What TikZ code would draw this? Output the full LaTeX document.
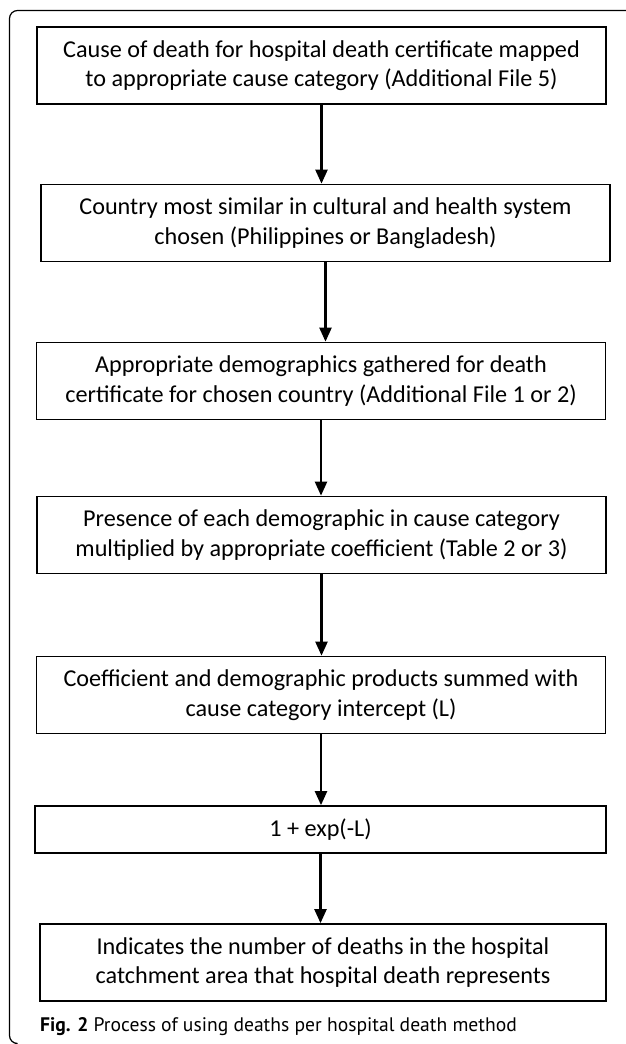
\documentclass[tikz,border=0pt]{standalone}
\usepackage{fontspec}
\setmainfont{Carlito}
\newfontfamily\capfont{PT Sans}
\usetikzlibrary{arrows.meta}

\tikzset{
  stepbox/.style={draw, line width=1.7pt, minimum width=569pt, minimum height=77pt,
    align=center, inner sep=0pt, font=\fontsize{24.2}{29.5}\selectfont},
  flowarrow/.style={line width=2.3pt, -{Triangle[width=12pt,length=14pt]}}
}

\begin{document}
\begin{tikzpicture}[x=1pt, y=-1pt]
  \useasboundingbox (0,0) rectangle (625,1044);
  \draw[line width=1.2pt, rounded corners=8pt] (15,1043.5) -- (9.5,1043.5) -- (9.5,10.5) -- (626,10.5);

  \node [stepbox] (cause) at (321.5,65.5) {Cause of death for hospital death certificate mapped\\to appropriate cause category (Additional File 5)};
  \node [stepbox] (country) at (325.5,223) {Country most similar in cultural and health system\\chosen (Philippines or Bangladesh)};
  \node [stepbox] (demog) at (321,381) {Appropriate demographics gathered for death\\certificate for chosen country (Additional File 1 or 2)};
  \node [stepbox] (presence) at (321.5,535) {Presence of each demographic in cause category\\multiplied by appropriate coefficient (Table 2 or 3)};
  \node [stepbox] (summed) at (321,695) {Coefficient and demographic products summed with\\cause category intercept (L)};
  \node [stepbox, minimum width=571pt, minimum height=47pt] (expo) at (320.5,829.5) {1 + exp(-L)};
  \node [stepbox, minimum width=566pt] (result) at (323,962.5) {Indicates the number of deaths in the hospital\\catchment area that hospital death represents};

  \foreach \a/\b in {cause/country, country/demog, demog/presence, presence/summed, summed/expo, expo/result} {
    \draw [flowarrow] (\a.south) -- (\a.south |- \b.north);
  }

  \node [anchor=base west, inner sep=0pt, font=\capfont\fontsize{19.6}{23}\selectfont] (caption) at (40,1031) {\textbf{Fig. 2} Process of using deaths per hospital death method};
\end{tikzpicture}
\end{document}
